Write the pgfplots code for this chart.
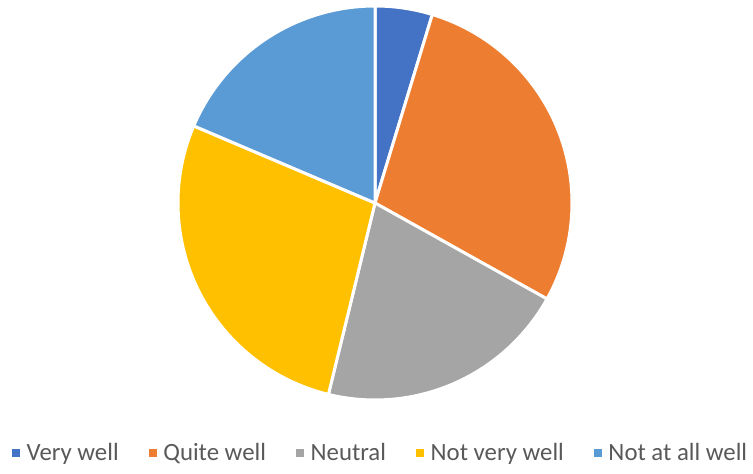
\documentclass[border=0pt]{standalone}
\usepackage{fontspec}
\setmainfont{Carlito}
\usepackage{pgfplots}
\usepackage{pgfplotstable}
\pgfplotsset{compat=1.18}

\definecolor{c0}{HTML}{4472C4}
\definecolor{c1}{HTML}{ED7D31}
\definecolor{c2}{HTML}{A5A5A5}
\definecolor{c3}{HTML}{FFC000}
\definecolor{c4}{HTML}{5B9BD5}
\definecolor{legtext}{HTML}{595959}

% share of answers, in percent, clockwise from the top
\pgfplotstableread{
label value
{Very well} 4.7
{Quite well} 28.4
{Neutral} 20.7
{Not very well} 27.6
{Not at all well} 18.6
}\piedata

\begin{document}
\begin{tikzpicture}[x=1pt,y=1pt]
\useasboundingbox (0,0) rectangle (564.75,355.5);
\begin{axis}[
    scale only axis,
    width=295.5pt, height=295.5pt,
    at={(281.25pt,203.25pt)}, anchor=center,
    xmin=-1, xmax=1, ymin=-1, ymax=1,
    hide axis, clip=false,
    legend columns=5,
    legend image code/.code={
        \fill[#1, draw=none] (0pt,-3pt) rectangle (6pt,3pt);
    },
    legend style={
        draw=none, fill=none,
        font=\fontsize{18.6}{21}\selectfont,
        text=legtext,
        at={(0.515,-0.1345)}, anchor=center,
        /tikz/every odd column/.append style={column sep=3pt},
        /tikz/every even column/.append style={column sep=20.5pt},
    },
]
\addlegendimage{c0}\addlegendentry{Very well}
\addlegendimage{c1}\addlegendentry{Quite well}
\addlegendimage{c2}\addlegendentry{Neutral}
\addlegendimage{c3}\addlegendentry{Not very well}
\addlegendimage{c4}\addlegendentry{Not at all well}

\pgfplotsextra{
    \pgfplotstablegetrowsof{\piedata}
    \pgfmathtruncatemacro\nrows{\pgfplotsretval-1}
    \gdef\startang{90}
    \foreach \i in {0,...,\nrows}{
        \pgfplotstablegetelem{\i}{value}\of\piedata
        \pgfmathsetmacro\endang{\startang-3.6*\pgfplotsretval}
        \filldraw[fill=c\i, draw=white, line width=2.25pt, line join=round]
            (0,0) -- plot[domain=\endang:\startang, samples=80]
            ({cos(\x)},{sin(\x)}) -- cycle;
        \xdef\startang{\endang}
    }
}
\end{axis}
\end{tikzpicture}
\end{document}
